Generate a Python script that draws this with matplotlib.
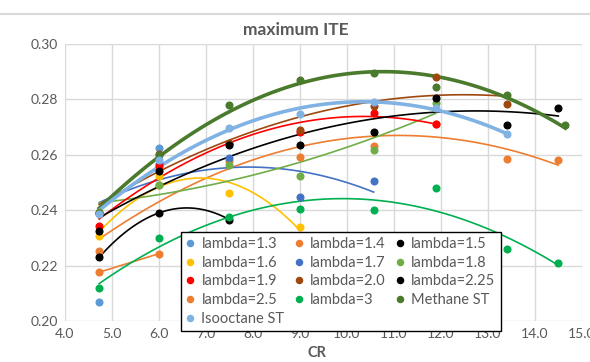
import matplotlib.pyplot as plt
import numpy as np
from matplotlib.lines import Line2D

plt.rcParams['font.family'] = ['Lato', 'DejaVu Sans']

# CR values and maximum ITE
cr = [4.73, 6.0, 7.5, 9.0, 10.57, 11.9, 13.4, 14.5]

lam13 = [0.2068, 0.2624]
lam14 = [0.2252, 0.2490, 0.2576, 0.2592, 0.2632, 0.2712, 0.2584, 0.2582]
lam15 = [0.2230, 0.2390, 0.2366]
lam16 = [0.2306, 0.2525, 0.2462, 0.2340]
lam17 = [0.2390, 0.2565, 0.2590, 0.2446, 0.2505]
lam18 = [0.2392, 0.2490, 0.2564, 0.2524, 0.2616, 0.2788]
lam19 = [0.2344, 0.2560, 0.2640, 0.2684, 0.2752, 0.2712]
lam20 = [0.2390, 0.2604, 0.2643, 0.2690, 0.2775, 0.2882, 0.2784]
lam225 = [0.2324, 0.2543, 0.2636, 0.2635, 0.2684, 0.2806, 0.2708, 0.2769]
lam25 = [0.2176, 0.2243]
lam3 = [0.2120, 0.2300, 0.2374, 0.2404, 0.2402, 0.2479, 0.2260, 0.2208]
methane_cr = [4.73, 6.0, 7.5, 9.0, 10.57, 11.9, 13.4, 14.65]
methane = [0.2390, 0.2600, 0.2778, 0.2870, 0.2894, 0.2843, 0.2816, 0.2708]
isooctane = [0.2385, 0.2580, 0.2695, 0.2747, 0.2792, 0.2770, 0.2675]

# name, x, y, colour, trendline degree (None = no trendline), trendline width
series = [
    ('lambda=1.3', cr, lam13, '#5B9BD5', None, 1.2),
    ('lambda=1.4', cr, lam14, '#ED7D31', 2, 1.2),
    ('lambda=1.5', cr, lam15, '#000000', 2, 1.2),
    ('lambda=1.6', cr, lam16, '#FFC000', 2, 1.2),
    ('lambda=1.7', cr, lam17, '#4472C4', 2, 1.2),
    ('lambda=1.8', cr, lam18, '#70AD47', 2, 1.2),
    ('lambda=1.9', cr, lam19, '#FF0000', 2, 1.2),
    ('lambda=2.0', cr, lam20, '#9E480E', 2, 1.2),
    ('lambda=2.25', cr, lam225, '#000000', 2, 1.2),
    ('lambda=2.5', cr, lam25, '#ED7D31', 1, 1.2),
    ('lambda=3', cr, lam3, '#00B050', 2, 1.2),
    ('Methane ST', methane_cr, methane, '#4A7A2C', 2, 2.6),
    ('Isooctane ST', cr, isooctane, '#80B2E3', 2, 2.6),
]

fig = plt.figure(figsize=(5.9, 3.62), dpi=100)
ax = fig.add_axes([0.110, 0.1133, 0.876, 0.7652])

handles = {}
for name, x, y, color, deg, lw in series:
    x = np.array(x[:len(y)])
    y = np.array(y)
    if deg is not None:
        coef = np.polyfit(x, y, deg)
        xs = np.linspace(x.min(), x.max(), 100)
        ax.plot(xs, np.polyval(coef, xs), color=color, lw=lw, zorder=2)
    ax.plot(x, y, 'o', color=color, ms=4.8, zorder=3)
    handles[name] = Line2D([], [], marker='o', ls='', color=color, ms=4.4)

ax.set_xlim(4.0, 15.0)
ax.set_ylim(0.20, 0.30)
ax.set_xticks(np.arange(4.0, 15.5, 1.0))
ax.set_yticks(np.arange(0.20, 0.305, 0.02))
ax.xaxis.set_major_formatter(plt.FormatStrFormatter('%.1f'))
ax.yaxis.set_major_formatter(plt.FormatStrFormatter('%.2f'))
ax.grid(True, color='#D9D9D9', lw=1)
ax.set_axisbelow(True)
for s in ax.spines.values():
    s.set_visible(False)
ax.tick_params(length=0, labelsize=10, colors='#595959', pad=5)

fig.text(296 / 590, 1 - 30 / 362, 'maximum ITE', fontsize=12.5, fontweight='bold',
         color='#595959', ha='center', va='center')
fig.text(317 / 590, 1 - 353 / 362, 'CR', fontsize=10.5, fontweight='bold',
         color='#595959', ha='center', va='center')

order = ['lambda=1.3', 'lambda=1.6', 'lambda=1.9', 'lambda=2.5', 'Isooctane ST',
         'lambda=1.4', 'lambda=1.7', 'lambda=2.0', 'lambda=3',
         'lambda=1.5', 'lambda=1.8', 'lambda=2.25', 'Methane ST']
leg = fig.legend([handles[k] for k in order], order, ncol=3, loc='upper left',
                 bbox_to_anchor=(181 / 590, 1 - 232 / 362), borderaxespad=0,
                 fontsize=10.5, frameon=True, fancybox=False, framealpha=1,
                 edgecolor='black', handlelength=0.6, handletextpad=0.45,
                 columnspacing=0.7, labelspacing=0.32, borderpad=0.35,
                 labelcolor='#595959')
leg.get_frame().set_linewidth(1.0)
leg.set_zorder(10)

# outer chart border line at the top
fig.add_artist(Line2D([0, 1], [1 - 14 / 362] * 2, color='#D9D9D9', lw=1.5))

plt.savefig('out.png', dpi=100)
